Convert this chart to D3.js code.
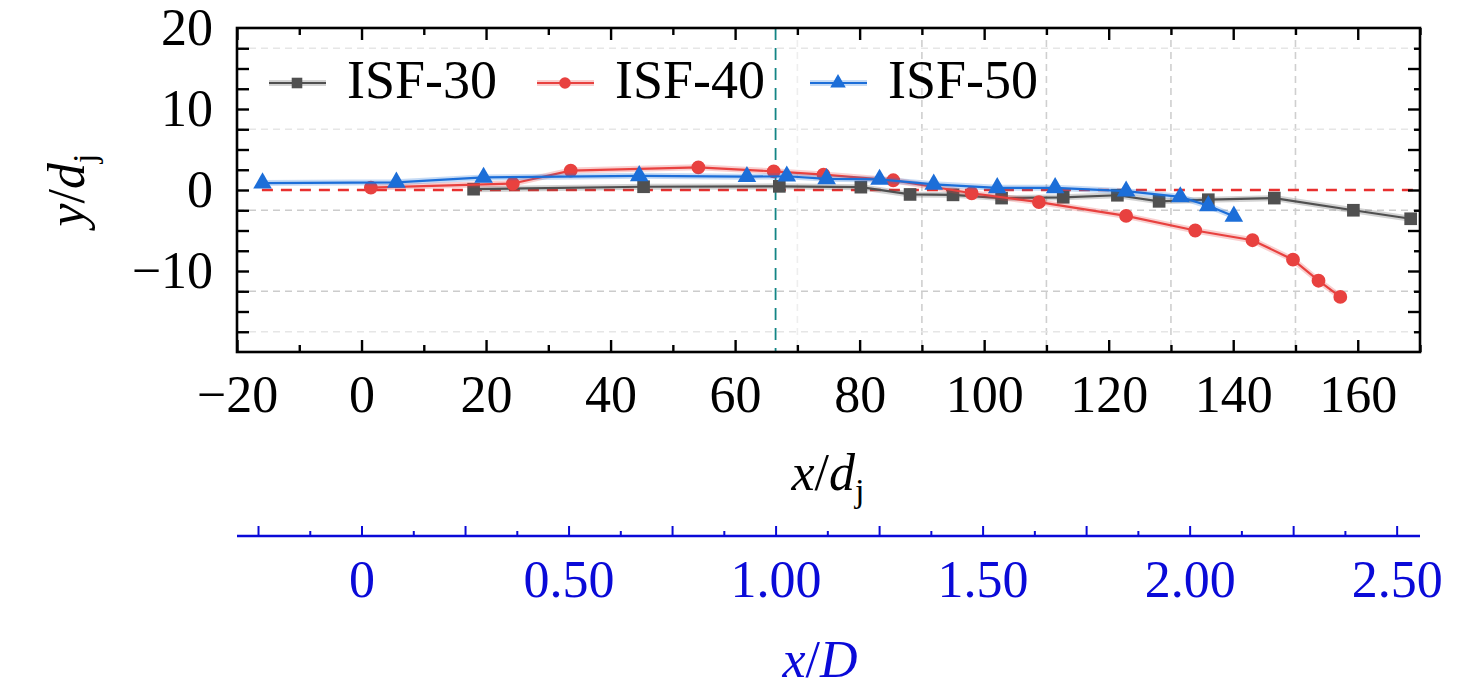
<!DOCTYPE html>
<html>
<head>
<meta charset="utf-8">
<script src="https://cdn.jsdelivr.net/npm/d3@7"></script>
<style>
  body { margin: 0; background: #fff; }
  svg, svg text { font-family: "Liberation Serif", "DejaVu Serif", serif; }
</style>
</head>
<body>
<svg width="1476" height="695"></svg>
<script>
// values
var isf30 = [[18, 0.1], [45.3, 0.4], [67.1, 0.45], [80.2, 0.35], [88.1, -0.55], [95, -0.6],
	[102.8, -1.0], [112.7, -0.9], [121.4, -0.65], [128.1, -1.4], [136, -1.2], [146.6, -1.0],
	[159.3, -2.5], [168.5, -3.55]];
var isf40 = [[1.5, 0.3], [24.3, 0.8], [33.6, 2.4], [54.1, 2.8], [66.2, 2.3], [74.2, 1.9],
	[85.4, 1.2], [98, -0.4], [108.8, -1.5], [122.8, -3.2], [133.9, -5.0], [143.1, -6.2],
	[149.6, -8.6], [153.7, -11.2], [157.2, -13.2]];
var isf50 = [[-15.9, 0.85], [5.6, 0.95], [19.6, 1.55], [44.6, 1.75], [61.9, 1.65], [68.3, 1.7],
	[74.7, 1.38], [83.2, 1.3], [91.9, 0.7], [102.1, 0.27], [111.4, 0.27], [122.8, -0.15],
	[131.5, -0.85], [136, -1.95], [140.1, -3.25]];
var seriesNames = ['ISF-30', 'ISF-40', 'ISF-50'];

var xTickLabels = [-20, 0, 20, 40, 60, 80, 100, 120, 140, 160];
var yTickLabels = [-10, 0, 10, 20];
var xDTickLabels = [0, 0.5, 1.0, 1.5, 2.0, 2.5];
var gridX = [70, 90, 110, 130, 150];
var gridY = [17.5, 7.5, -2.5, -12.5, -17.5];
var refLineY = 0;          // red dashed line
var refLineXStart = -16;
var refLineX = 66.5;       // teal dashed line, x/D = 1
var dRatio = 66.5;         // D / d_j

var serif = '"Liberation Serif", "DejaVu Serif", serif';

var margin = {top: 28, left: 237, right: 56, bottom: 343};
var width = 1476 - margin.left - margin.right;
var height = 695 - margin.top - margin.bottom;

var svg = d3.select('svg');
var g = svg.append('g')
	.attr('transform', `translate(${margin.left},${margin.top})`);

var x = d3.scaleLinear().domain([-20, 170]).range([0, width]);
var y = d3.scaleLinear().domain([-20, 20]).range([height, 0]);

// grid lines
g.selectAll('.gx').data(gridX).enter().append('line')
	.attr('x1', d => x(d)).attr('x2', d => x(d))
	.attr('y1', 0).attr('y2', height)
	.attr('stroke', d => d === 70 ? '#eeeeee' : '#cfcfcf')
	.attr('stroke-width', 1.6)
	.attr('stroke-dasharray', '7,5');
g.selectAll('.gy').data(gridY).enter().append('line')
	.attr('x1', 0).attr('x2', width)
	.attr('y1', d => y(d)).attr('y2', d => y(d))
	.attr('stroke', d => (d === -2.5 || d === -12.5) ? '#cccccc' : '#e6e6e6')
	.attr('stroke-width', 1.6)
	.attr('stroke-dasharray', '7,5');

// reference lines
g.append('line')
	.attr('x1', x(refLineX)).attr('x2', x(refLineX))
	.attr('y1', 0).attr('y2', height)
	.attr('stroke', '#138585').attr('stroke-width', 1.8)
	.attr('stroke-dasharray', '12,8');
g.append('line')
	.attr('x1', x(refLineXStart)).attr('x2', width)
	.attr('y1', y(refLineY)).attr('y2', y(refLineY))
	.attr('stroke', '#e8302f').attr('stroke-width', 2.4)
	.attr('stroke-dasharray', '11,8');

var colors = ['#505050', '#e8413f', '#1c6ed8'];
var shapes = [d3.symbolSquare, d3.symbolCircle, d3.symbolTriangle];
var sizes = [160, 150, 150];

var line = d3.line()
	.x(d => x(d[0]))
	.y(d => y(d[1]));

[isf30, isf40, isf50].forEach(function(data, i) {
	g.append('path')
		.attr('d', line(data))
		.attr('fill', 'none')
		.attr('stroke', colors[i])
		.attr('stroke-opacity', 0.25)
		.attr('stroke-width', 6);
	g.append('path')
		.attr('d', line(data))
		.attr('fill', 'none')
		.attr('stroke', colors[i])
		.attr('stroke-width', 2.2);
	g.selectAll('.m' + i).data(data).enter().append('path')
		.attr('d', d3.symbol().type(shapes[i]).size(sizes[i]))
		.attr('transform', d => `translate(${x(d[0])},${y(d[1])})`)
		.attr('fill', colors[i]);
});

// axes, ticks inward
function styleAxis(sel) {
	sel.attr('font-family', serif);
	sel.select('.domain').remove();
	sel.selectAll('line').attr('stroke', '#000').attr('stroke-width', 2.4);
	sel.selectAll('text').attr('font-size', 52).attr('font-family', serif).attr('fill', '#000');
}

var xMinor = d3.range(-10, 171, 20);
var yAll = d3.range(-17.5, 20, 2.5);

g.append('g').attr('transform', `translate(0,${height})`)
	.call(d3.axisBottom(x).tickValues(xMinor).tickSize(-7).tickFormat(''))
	.call(styleAxis);
g.append('g').attr('transform', `translate(0,${height})`)
	.call(d3.axisBottom(x).tickValues(xTickLabels).tickSize(-12).tickPadding(23))
	.call(styleAxis);
g.append('g')
	.call(d3.axisTop(x).tickValues(xMinor).tickSize(-7).tickFormat(''))
	.call(styleAxis);
g.append('g')
	.call(d3.axisTop(x).tickValues(xTickLabels).tickSize(-12).tickFormat(''))
	.call(styleAxis);

g.append('g')
	.call(d3.axisLeft(y).tickValues(yAll).tickSize(-12).tickFormat(''))
	.call(styleAxis);
g.append('g')
	.call(d3.axisLeft(y).tickValues(yTickLabels).tickSize(0).tickPadding(24))
	.call(styleAxis);
g.append('g').attr('transform', `translate(${width},0)`)
	.call(d3.axisRight(y).tickValues(yAll.filter(v => v % 5 !== 0)).tickSize(-6).tickFormat(''))
	.call(styleAxis);
g.append('g').attr('transform', `translate(${width},0)`)
	.call(d3.axisRight(y).tickValues(yAll.filter(v => v % 5 === 0)).tickSize(-12).tickFormat(''))
	.call(styleAxis);

g.append('rect')
	.attr('width', width).attr('height', height)
	.attr('fill', 'none').attr('stroke', '#000').attr('stroke-width', 2.6);

// axis titles
var xt = svg.append('text')
	.attr('x', 828).attr('y', 490)
	.attr('text-anchor', 'middle')
	.attr('font-size', 52);
xt.append('tspan').attr('font-style', 'italic').text('x');
xt.append('tspan').text('/');
xt.append('tspan').attr('font-style', 'italic').text('d');
xt.append('tspan').attr('font-size', 34).attr('dy', 12).text('j');

var yt = svg.append('text')
	.attr('transform', 'translate(84,190) rotate(-90)')
	.attr('text-anchor', 'middle')
	.attr('font-size', 52);
yt.append('tspan').attr('font-style', 'italic').text('y');
yt.append('tspan').text('/');
yt.append('tspan').attr('font-style', 'italic').text('d');
yt.append('tspan').attr('font-size', 34).attr('dy', 12).text('j');

// legend
var legendX = [269, 537, 810];
seriesNames.forEach(function(name, i) {
	var lg = svg.append('g').attr('transform', `translate(${legendX[i]},83)`);
	lg.append('line').attr('x1', 0).attr('x2', 57)
		.attr('stroke', colors[i]).attr('stroke-opacity', 0.25).attr('stroke-width', 6);
	lg.append('line').attr('x1', 0).attr('x2', 57)
		.attr('stroke', colors[i]).attr('stroke-width', 2.2);
	lg.append('path')
		.attr('d', d3.symbol().type(shapes[i]).size(sizes[i] * 0.7))
		.attr('transform', 'translate(28,0)')
		.attr('fill', colors[i]);
	lg.append('text')
		.attr('x', 78).attr('y', 15)
		.attr('font-size', 54)
		.text(name);
});

// secondary x/D axis
var blue = '#0a0ad8';
var xD = d3.scaleLinear().domain([-20 / dRatio, 170 / dRatio]).range([0, width]);
var g2 = svg.append('g').attr('transform', `translate(${margin.left},536)`);
g2.append('line').attr('x1', 0).attr('x2', width)
	.attr('stroke', blue).attr('stroke-width', 2.6);
function styleBlue(sel) {
	sel.attr('font-family', serif);
	sel.select('.domain').remove();
	sel.selectAll('line').attr('stroke', blue).attr('stroke-width', 2);
	sel.selectAll('text').attr('font-size', 52).attr('font-family', serif).attr('fill', blue);
}
g2.append('g')
	.call(d3.axisBottom(xD).tickValues(d3.range(-0.125, 2.6, 0.25)).tickSize(-5).tickFormat(''))
	.call(styleBlue);
g2.append('g')
	.call(d3.axisBottom(xD).tickValues(d3.range(-0.25, 2.6, 0.25)).tickSize(-10).tickFormat(''))
	.call(styleBlue);
g2.append('g')
	.call(d3.axisBottom(xD).tickValues(xDTickLabels).tickSize(0).tickPadding(24)
		.tickFormat(d => d === 0 ? '0' : d3.format('.2f')(d)))
	.call(styleBlue);

var dt = svg.append('text')
	.attr('x', 820).attr('y', 677)
	.attr('text-anchor', 'middle')
	.attr('font-size', 52)
	.attr('fill', blue);
dt.append('tspan').attr('font-style', 'italic').text('x');
dt.append('tspan').text('/');
dt.append('tspan').attr('font-style', 'italic').text('D');
</script>
</body>
</html>
